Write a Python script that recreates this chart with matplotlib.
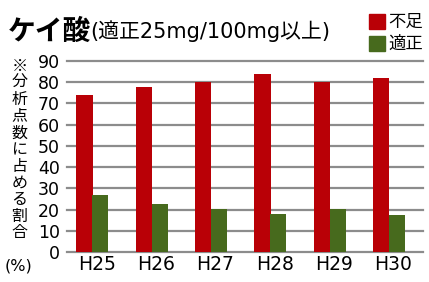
import matplotlib
matplotlib.use("Agg")
import matplotlib.pyplot as plt
import numpy as np
from matplotlib.patches import Rectangle

categories = ["H25", "H26", "H27", "H28", "H29", "H30"]
shortage = [74, 77.7, 80, 83.7, 80, 81.8]
adequate = [26.8, 22.6, 20.2, 17.9, 20.2, 17.4]
yticks = [0, 10, 20, 30, 40, 50, 60, 70, 80, 90]
series_names = ["不足", "適正"]
colors = ["#b90006", "#476a1d"]

JP = ["Noto Sans CJK JP", "DejaVu Sans"]
LAT = ["DejaVu Sans", "Noto Sans CJK JP"]

W, H = 429, 282
fig = plt.figure(figsize=(W / 100, H / 100), dpi=100)
ax = fig.add_axes([67 / W, (H - 252) / H, 356 / W, (252 - 61) / H])

x = np.arange(len(categories))
bw = 0.27
ax.bar(x - 0.205, shortage, width=bw, color=colors[0], zorder=3)
ax.bar(x + 0.062, adequate, width=bw, color=colors[1], zorder=3)

ax.set_xlim(-0.5, len(categories) - 0.5)
ax.set_ylim(0, 90)
ax.set_yticks(yticks)
ax.set_yticklabels([str(v) for v in yticks], family=LAT, fontsize=12.5)
ax.set_xticks(x)
ax.set_xticklabels(categories, family=LAT, fontsize=13.5)
ax.tick_params(axis="both", length=0)
ax.tick_params(axis="y", pad=5)
ax.tick_params(axis="x", pad=2)
for v in yticks:
    ax.axhline(v, color="#8c8c8c", lw=1.6, zorder=1, clip_on=False)
for s in ax.spines.values():
    s.set_visible(False)

# Title
fig.text(8 / W, 1 - 40 / H, "ケイ酸", family=JP, fontsize=20, fontweight="bold",
         va="baseline", ha="left")
fig.text(90 / W, 1 - 38 / H, "(適正25mg/100mg以上)", family=LAT, fontsize=15,
         va="baseline", ha="left")

# Legend
for i, (name, c) in enumerate(zip(series_names, colors)):
    y0 = 14 + i * 22
    fig.patches.append(Rectangle((369 / W, 1 - (y0 + 15) / H), 16 / W, 15 / H,
                                 transform=fig.transFigure, color=c))
    fig.text(388 / W, 1 - (y0 + 8) / H, name, family=JP, fontsize=12.5,
             va="center", ha="left")

# Vertical y label
ylabel = "※分析点数に占める割合"
top = 66
step = 16.7
for i, ch in enumerate(ylabel):
    fig.text(19.5 / W, 1 - (top + i * step) / H, ch, family=JP, fontsize=11.5,
             va="center", ha="center")
fig.text(18 / W, 1 - 266 / H, "(%)", family=LAT, fontsize=11.5,
         va="center", ha="center")

fig.savefig("out.png", dpi=100)
